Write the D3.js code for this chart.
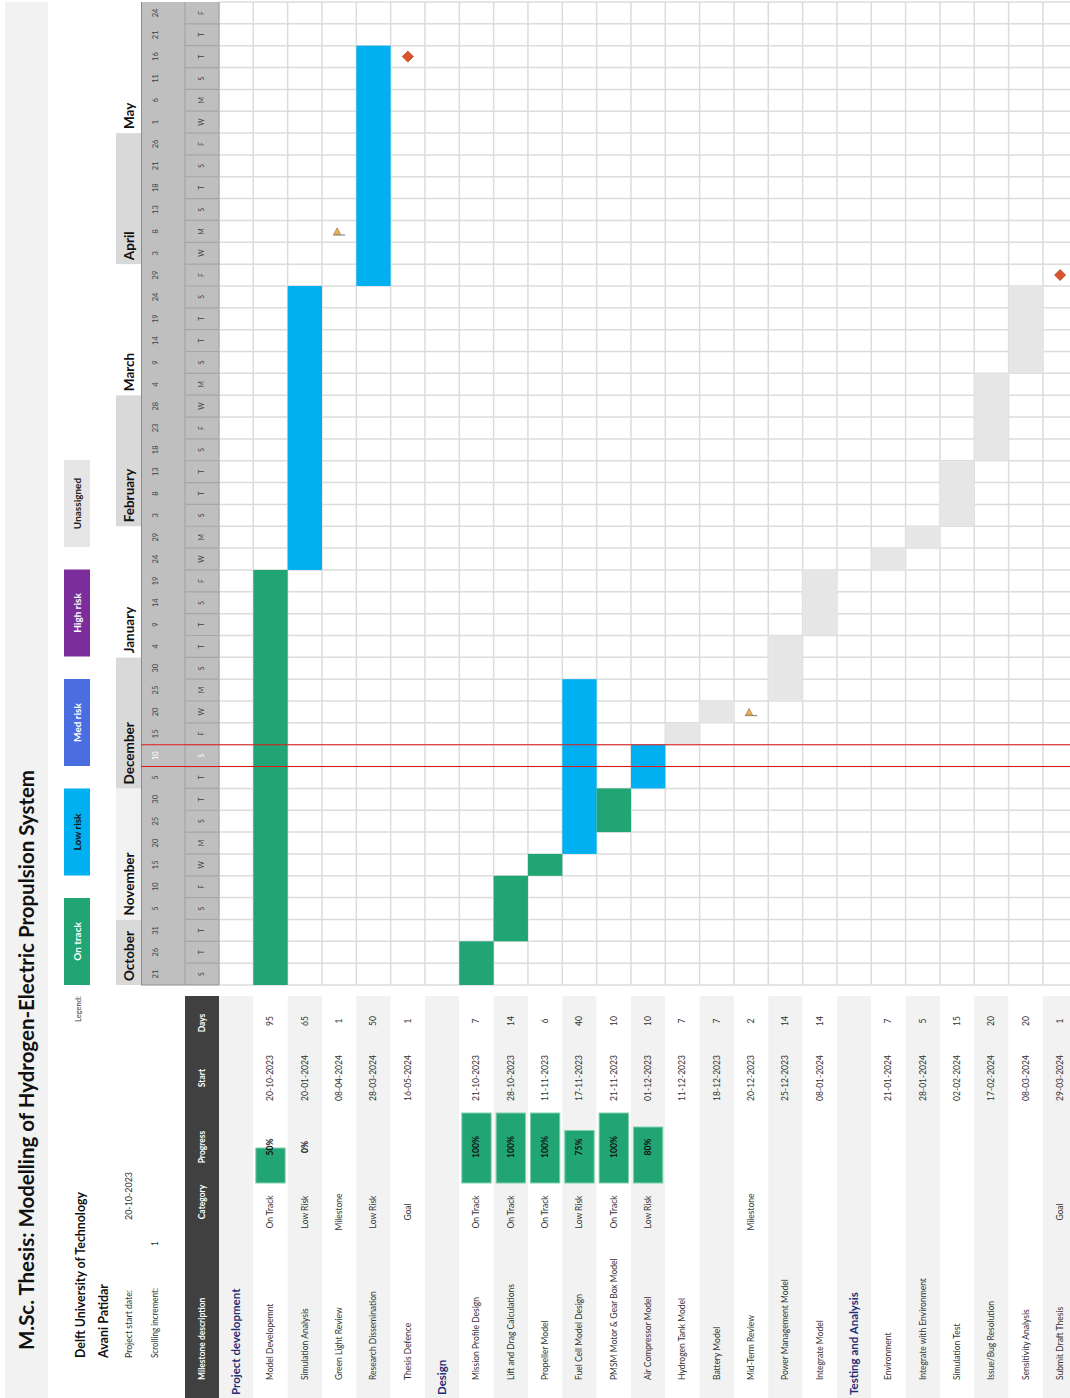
<!DOCTYPE html>
<html>
<head>
<meta charset="utf-8">
<script src="https://cdn.jsdelivr.net/npm/d3@7"></script>
<style>
  html, body { margin: 0; padding: 0; background: #fff; }
  svg { display: block; font-family: Lato, "Open Sans", "Liberation Sans", sans-serif; }
</style>
</head>
<body>
<svg id="chart" width="1070" height="1398"></svg>
<script>
// ---- Timeline columns (one per 5-ish day slot) ----
const columnDates = [
  "2023-10-21","2023-10-26","2023-10-31","2023-11-05","2023-11-10","2023-11-15",
  "2023-11-20","2023-11-25","2023-11-30","2023-12-05","2023-12-10","2023-12-15",
  "2023-12-20","2023-12-25","2023-12-30","2024-01-04","2024-01-09","2024-01-14",
  "2024-01-19","2024-01-24","2024-01-29","2024-02-03","2024-02-08","2024-02-13",
  "2024-02-18","2024-02-23","2024-02-28","2024-03-04","2024-03-09","2024-03-14",
  "2024-03-19","2024-03-24","2024-03-29","2024-04-03","2024-04-08","2024-04-13",
  "2024-04-18","2024-04-21","2024-04-26","2024-05-01","2024-05-06","2024-05-11",
  "2024-05-16","2024-05-21","2024-05-24"
];
const todayDate = "2023-12-10";

// ---- Milestone table ----
const sectionNames = ["Project development", "Design", "Testing and Analysis"];
const rowLabels = [
  "Project development","Model Developemnt","Simulation Analysis","Green Light Review",
  "Research Dissemination","Thesis Defence","Design","Mission Profile Design",
  "Lift and Drag Calculations","Propeller Model","Fuel Cell Model Design",
  "PMSM Motor & Gear Box Model","Air Compressor Model","Hydrogen Tank Model",
  "Battery Model","Mid-Term Review","Power Management Model","Integrate Model",
  "Testing and Analysis","Environment","Integrate with Environment","Simulation Test",
  "Issue/Bug Resolution","Sensitivity Analysis","Submit Draft Thesis"
];
const rowCategory = [
  null,"On Track","Low Risk","Milestone","Low Risk","Goal",
  null,"On Track","On Track","On Track","Low Risk","On Track","Low Risk","","",
  "Milestone","","",
  null,"","","","","","Goal"
];
const rowProgress = [
  null,0.5,0,null,null,null,
  null,1,1,1,0.75,1,0.8,null,null,null,null,null,
  null,null,null,null,null,null,null
];
const rowStart = [
  null,"2023-10-20","2024-01-20","2024-04-08","2024-03-28","2024-05-16",
  null,"2023-10-21","2023-10-28","2023-11-11","2023-11-17","2023-11-21","2023-12-01",
  "2023-12-11","2023-12-18","2023-12-20","2023-12-25","2024-01-08",
  null,"2024-01-21","2024-01-28","2024-02-02","2024-02-17","2024-03-08","2024-03-29"
];
const rowDays = [
  null,95,65,1,50,1,
  null,7,14,6,40,10,10,7,7,2,14,14,
  null,7,5,15,20,20,1
];

// ---- Legend ----
const legendLabels = ["On track","Low risk","Med risk","High risk","Unassigned"];
const tableHeaders = ["Milestone description","Category","Progress","Start","Days"];

// ---- Styles ----
const categoryColor = {
  "On Track": "#22a574", "Low Risk": "#00b0f0", "Med Risk": "#4a6de0",
  "High Risk": "#7b2d9c", "": "#e6e6e6"
};
const legendFill = ["#22a574","#00b0f0","#4a6de0","#7b2d9c","#e6e6e6"];
const legendText = ["#ffffff","#111111","#ffffff","#ffffff","#222222"];
const monthShade = ["#d9d9d9","#f2f2f2","#d9d9d9","#ffffff","#d9d9d9","#ffffff","#d9d9d9","#ffffff"];

const parse = d3.timeParse("%Y-%m-%d");
const fmtDate = d3.timeFormat("%d-%m-%Y");
const fmtDay = d3.timeFormat("%-d");
const fmtWeekday = d3.timeFormat("%a");
const fmtMonth = d3.timeFormat("%B");
const fmtPct = d3.format(".0%");

const cols = columnDates.map(parse);
const today = parse(todayDate);

// The sheet is laid out along a long axis and turned a quarter-turn.
const LONG = 1398;
const svg = d3.select("#chart");
const g = svg.append("g").attr("transform", `translate(0,${LONG}) rotate(-90)`);

const x = d3.scaleBand().domain(d3.range(cols.length)).range([413, 1396]);
const rowH = 34.33;
const y = d3.scaleBand().domain(d3.range(rowLabels.length))
  .range([219, 219 + rowH * rowLabels.length]);
const bw = x.bandwidth(), bh = y.bandwidth();
const rowMid = i => y(i) + bh / 2;

// table column anchors along the long axis
const tableW = 402;
const colDesc = 18, colCat = 186, colProg0 = 215, colProgW = 70, colProgMid = 251,
      colStart = 320, colDays = 377;
const progX = d3.scaleLinear().domain([0, 1]).range([0, colProgW]);

function txt(parent, xx, yy, s, opt = {}) {
  return parent.append("text")
    .attr("x", xx).attr("y", yy).attr("dy", "0.35em")
    .attr("text-anchor", opt.anchor || "start")
    .attr("font-size", opt.size || 8.5)
    .attr("font-weight", opt.bold ? 700 : 400)
    .attr("fill", opt.fill || "#333")
    .attr("data-w", opt.w || null)
    .text(s);
}

// ---- title band ----
g.append("rect").attr("x", 0).attr("y", 5).attr("width", 1396).attr("height", 43).attr("fill", "#f2f2f2");
txt(g, 48, 27, "M.Sc. Thesis: Modelling of Hydrogen-Electric Propulsion System",
    { size: 21, bold: true, fill: "#111", w: 580 });

// ---- info block ----
txt(g, 40, 80, "Delft University of Technology", { size: 14, bold: true, fill: "#111", w: 166 });
txt(g, 40, 103, "Avani Patidar", { size: 14, bold: true, fill: "#111", w: 74 });
txt(g, 40, 129, "Project start date:", { size: 8.5, fill: "#333", w: 68 });
txt(g, 178, 129, "20-10-2023", { size: 8.5, fill: "#333", w: 48 });
txt(g, 40, 155, "Scrolling increment:", { size: 8.5, fill: "#333", w: 70 });
txt(g, 152, 155, "1", { size: 8.5, fill: "#333" });

// ---- legend ----
txt(g, 376, 78, "Legend:", { size: 8, fill: "#444", w: 26 });
const leg = g.selectAll("g.leg").data(legendLabels).join("g").attr("class", "leg")
  .attr("transform", (d, i) => `translate(${413 + i * 109.5},64)`);
leg.append("rect").attr("width", 87).attr("height", 26).attr("fill", (d, i) => legendFill[i]);
leg.each(function (d, i) {
  txt(d3.select(this), 43.5, 13, d, { anchor: "middle", size: 10, bold: true, fill: legendText[i] });
});

// ---- table stripes + header ----
g.selectAll("rect.stripe").data(rowLabels).join("rect").attr("class", "stripe")
  .attr("x", 0).attr("y", (d, i) => y(i)).attr("width", tableW).attr("height", bh)
  .attr("fill", (d, i) => i % 2 === 0 ? "#f2f2f2" : "#ffffff");
g.append("rect").attr("x", 0).attr("y", 185).attr("width", tableW).attr("height", 34).attr("fill", "#404040");
const headerPos = [colDesc, 196, colProgMid, colStart, colDays - 2];
tableHeaders.forEach((h, i) => {
  txt(g, headerPos[i], 202, h, { anchor: i === 0 ? "start" : "middle", size: 8.5, bold: true, fill: "#ffffff" });
});

// ---- table rows ----
rowLabels.forEach((name, i) => {
  const cy = rowMid(i);
  if (sectionNames.includes(name)) {
    txt(g, 3, cy, name, { size: 11.5, bold: true, fill: "#1f2f78" });
    return;
  }
  txt(g, colDesc, cy, name, { size: 8.5, fill: "#333" });
  if (rowCategory[i]) txt(g, colCat, cy, rowCategory[i], { anchor: "middle", size: 8.5, fill: "#333" });
  if (rowProgress[i] != null) {
    if (rowProgress[i] > 0) {
      g.append("rect").attr("x", colProg0).attr("y", y(i) + 2.5)
        .attr("width", progX(rowProgress[i])).attr("height", bh - 5)
        .attr("fill", "#22a574").attr("stroke", "#7fd0ae").attr("stroke-width", 1);
    }
    txt(g, colProgMid, cy, fmtPct(rowProgress[i]), { anchor: "middle", size: 8.5, bold: true, fill: "#111" });
  }
  if (rowStart[i]) txt(g, colStart, cy, fmtDate(parse(rowStart[i])), { anchor: "middle", size: 8.5, fill: "#333" });
  if (rowDays[i] != null) txt(g, colDays, cy, rowDays[i], { anchor: "middle", size: 8.5, fill: "#333" });
});

// ---- timeline grid ----
const x0 = x.range()[0], x1 = x.range()[1];
const grid = g.append("g").attr("stroke", "#dcdcdc").attr("stroke-width", 1.5);
grid.selectAll("line.r").data(d3.range(rowLabels.length + 1)).join("line")
  .attr("x1", x0).attr("x2", x1)
  .attr("y1", i => 219 + i * rowH).attr("y2", i => 219 + i * rowH);
grid.selectAll("line.c").data(d3.range(cols.length + 1)).join("line")
  .attr("y1", 219).attr("y2", 1080)
  .attr("x1", j => x0 + j * bw).attr("x2", j => x0 + j * bw);

// ---- timeline header ----
const monthGroups = d3.groups(d3.range(cols.length), j => d3.timeFormat("%Y-%m")(cols[j]));
monthGroups.forEach(([key, idx], m) => {
  const first = idx[0], last = idx[idx.length - 1];
  g.append("rect").attr("x", x(first)).attr("y", 116)
    .attr("width", (last - first + 1) * bw).attr("height", 25).attr("fill", monthShade[m]);
});
g.append("rect").attr("x", x0).attr("y", 141).attr("width", x1 - x0).attr("height", 78).attr("fill", "#bfbfbf");
g.append("line").attr("x1", x0).attr("x2", x1).attr("y1", 141.5).attr("y2", 141.5).attr("stroke", "#8c8c8c");
g.append("line").attr("x1", x0).attr("x2", x1).attr("y1", 185).attr("y2", 185).attr("stroke", "#a6a6a6").attr("stroke-width", 1.2);
g.append("line").attr("x1", x0).attr("x2", x1).attr("y1", 219).attr("y2", 219).attr("stroke", "#a6a6a6").attr("stroke-width", 1.2);
g.append("line").attr("x1", x0).attr("x2", x0).attr("y1", 141).attr("y2", 219).attr("stroke", "#8c8c8c");
g.selectAll("line.lt").data(d3.range(1, cols.length)).join("line")
  .attr("x1", j => x0 + j * bw).attr("x2", j => x0 + j * bw)
  .attr("y1", 185).attr("y2", 219).attr("stroke", "#a6a6a6").attr("stroke-width", 1.2);

monthGroups.forEach(([key, idx]) => {
  txt(g, x(idx[0]) + 4, 129, fmtMonth(cols[idx[0]]), { size: 13.5, bold: true, fill: "#111" });
});
cols.forEach((d, j) => {
  const isToday = +d === +today;
  txt(g, x(j) + bw / 2, 155, fmtDay(d), { anchor: "middle", size: 7.5, fill: isToday ? "#ffffff" : "#404040" });
  txt(g, x(j) + bw / 2, 202, fmtWeekday(d).charAt(0), { anchor: "middle", size: 7, fill: isToday ? "#ffffff" : "#404040" });
});

// ---- bars and markers ----
const dayMs = 864e5;
rowLabels.forEach((name, i) => {
  if (!rowStart[i]) return;
  const s = parse(rowStart[i]);
  const e = new Date(+s + (rowDays[i] - 1) * dayMs);
  const hit = d3.range(cols.length).filter(j => cols[j] >= s && cols[j] <= e);
  if (!hit.length) return;
  const cat = rowCategory[i];
  if (cat === "Milestone" || cat === "Goal") {
    hit.forEach(j => {
      const m = g.append("g").attr("transform", `translate(${x(j) + bw / 2},${rowMid(i)}) rotate(90)`);
      if (cat === "Goal") {
        m.append("path").attr("d", "M0,-5.5L5.5,0L0,5.5L-5.5,0Z")
          .attr("fill", "#d9532b").attr("stroke", "#b8431f").attr("stroke-width", 0.8);
      } else {
        m.append("line").attr("x1", -6).attr("x2", 6).attr("y1", 3.6).attr("y2", 3.6)
          .attr("stroke", "#8a8a8a").attr("stroke-width", 1.2);
        m.append("path").attr("d", "M-2,-3.5L1.5,3.2L-5.5,3.2Z")
          .attr("fill", "#e2b15c").attr("stroke", "#b07a35").attr("stroke-width", 0.7);
      }
    });
  } else {
    const first = hit[0], last = hit[hit.length - 1];
    g.append("rect").attr("x", x(first)).attr("y", y(i))
      .attr("width", (last - first + 1) * bw).attr("height", bh)
      .attr("fill", categoryColor[cat] || "#e6e6e6");
  }
});

// ---- today marker ----
const tIdx = cols.findIndex(d => +d === +today);
if (tIdx >= 0) {
  [x(tIdx), x(tIdx) + bw].forEach(p => {
    g.append("line").attr("x1", p).attr("x2", p).attr("y1", 141).attr("y2", 1080)
      .attr("stroke", "#e01818").attr("stroke-width", 1.1);
  });
}

// ---- fixed-width lines of the heading block ----
document.fonts.ready.then(() => {
  svg.selectAll("text").each(function () {
    const el = d3.select(this);
    const w = el.attr("data-w");
    if (w) el.attr("textLength", +w).attr("lengthAdjust", "spacingAndGlyphs");
  });
});
</script>
</body>
</html>
